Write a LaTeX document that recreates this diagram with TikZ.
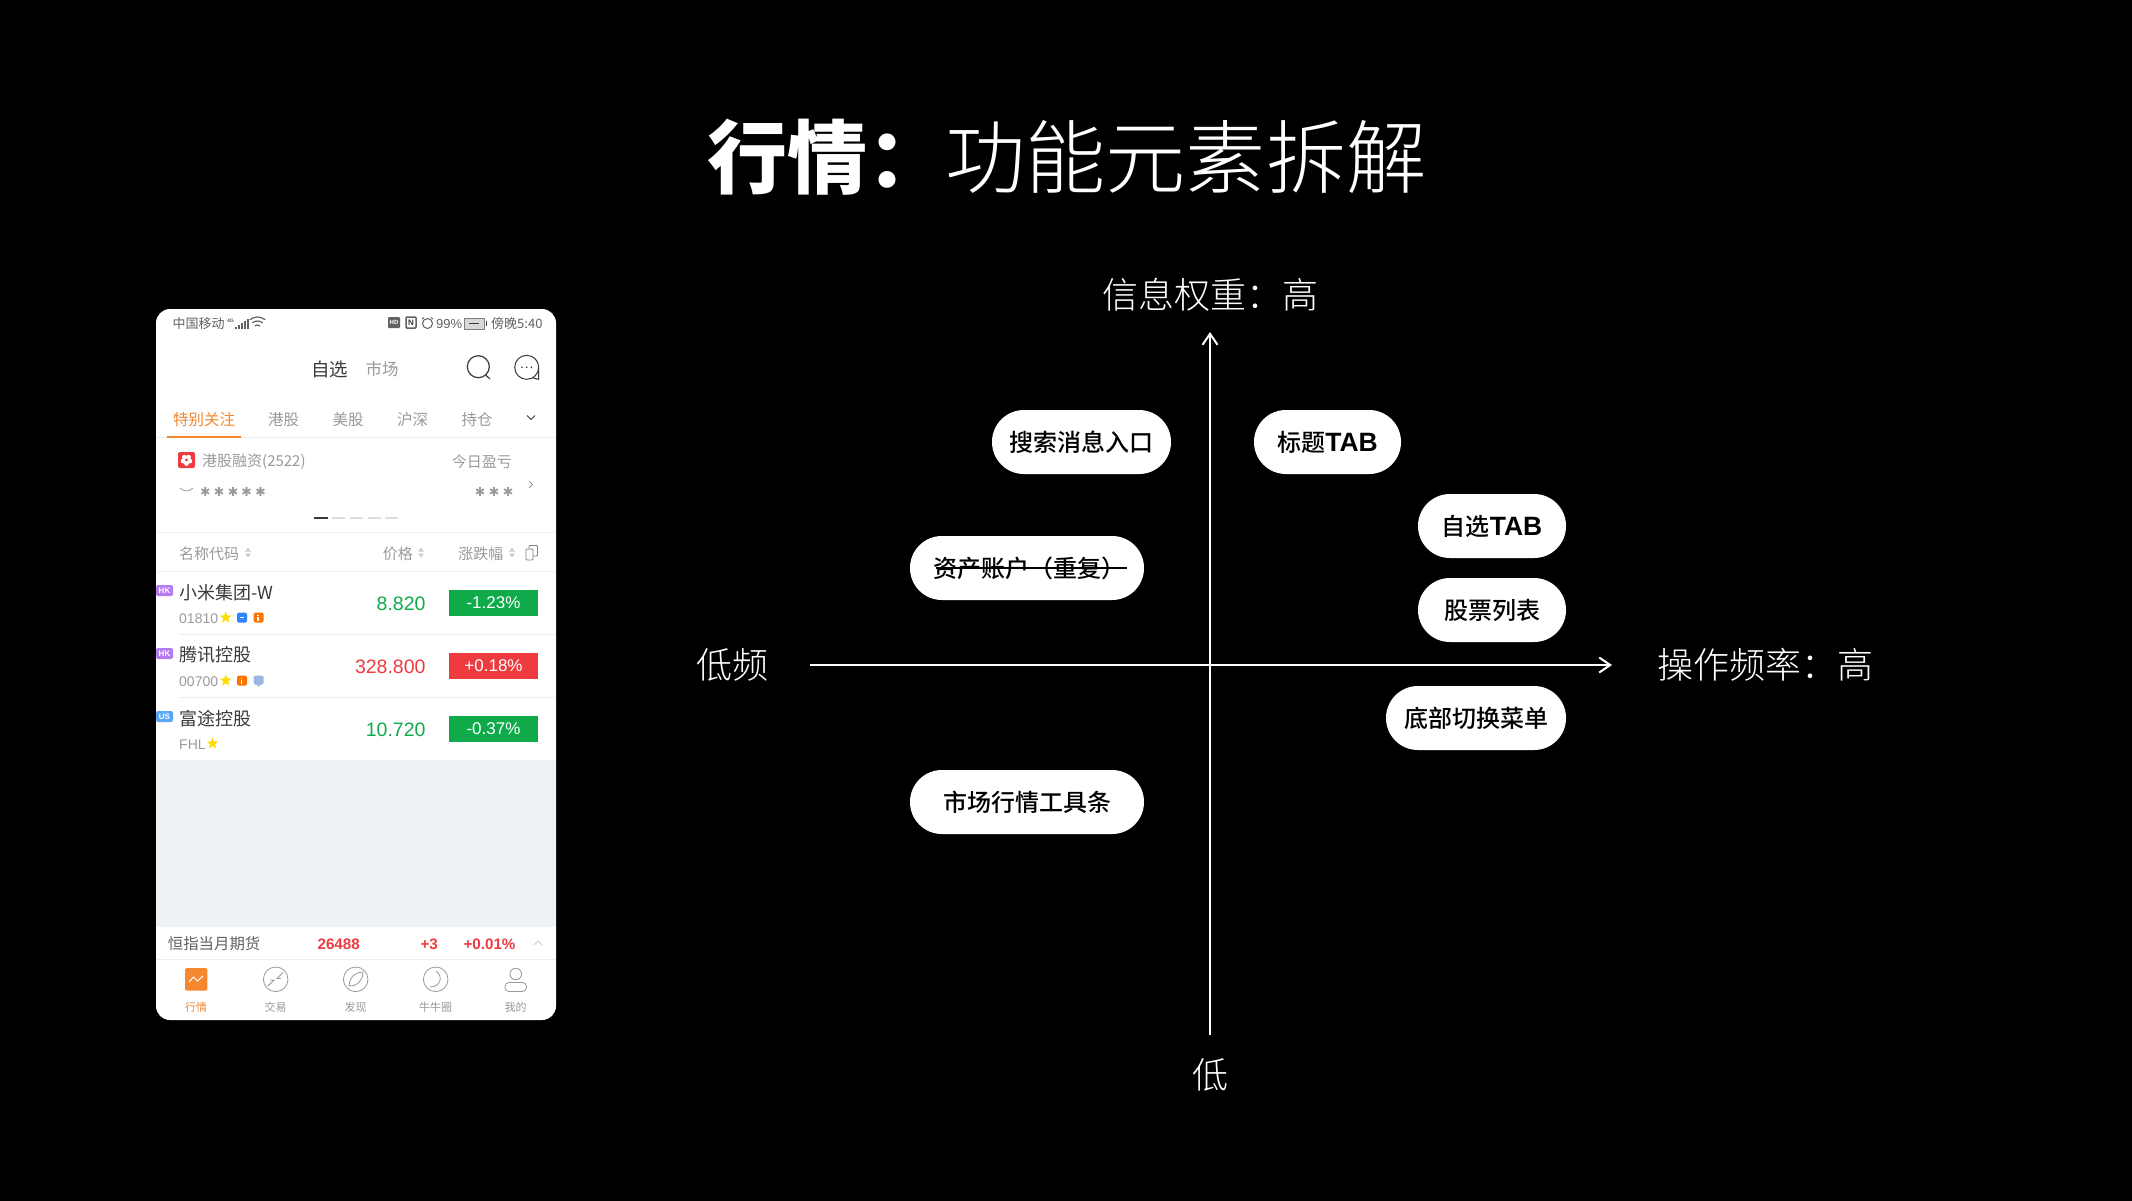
\documentclass[tikz,border=0pt]{standalone}
\usepackage{fontspec}
\usepackage{tikz}
\usetikzlibrary{arrows.meta, positioning, calc, shapes.geometric}
\setmainfont{Noto Sans CJK SC}
\newfontfamily\lightcjk{Noto Sans CJK SC Light}
\newfontfamily\medcjk{Noto Sans CJK SC Medium}
\newfontfamily\numfont{Liberation Sans}
\newfontfamily\symfont{DejaVu Sans}
\definecolor{appOrange}{HTML}{F5872F}
\definecolor{appGreen}{HTML}{0FAB4B}
\definecolor{appRed}{HTML}{EE3B3F}
\definecolor{appBg}{HTML}{EFF2F4}
\definecolor{txtDark}{HTML}{3A3A3A}
\definecolor{txtGray}{HTML}{9A9A9A}
\definecolor{lineGray}{HTML}{EEEEEE}
\definecolor{pagerGray}{HTML}{DDDDDD}
\definecolor{tagPurple}{HTML}{B57BF0}
\definecolor{tagBlue}{HTML}{5AA5F5}

\newcommand{\fs}[1]{\fontsize{#1}{#1}\selectfont}
\newcommand{\tabword}{{\numfont\bfseries\fs{26.5}TAB}}

\begin{document}
\begin{tikzpicture}[
    x=1pt, y=-1pt,
    >={Straight Barb[length=11pt,width=15pt]},
    pill/.style={rectangle, rounded corners=31.9pt, fill=white, text=black, minimum height=64pt, inner sep=0pt, font=\medcjk\fs{24}},
    axislabel/.style={text=white, inner sep=0pt, yshift=-1.5pt, font=\lightcjk\fs{36}},
    axis/.style={white, line width=2pt},
    status/.style={inner sep=0pt, yshift=-1pt, text=txtDark!80, font=\fs{13}},
    tabtxt/.style={inner sep=0pt, yshift=-1pt, text=txtGray, font=\fs{15.5}},
    small/.style={inner sep=0pt, yshift=-1pt, text=txtGray, font=\fs{15}},
    stock/.style={inner sep=0pt, yshift=-0.5pt, text=txtDark, font=\fs{18}},
    code/.style={inner sep=0pt, yshift=-1pt, text=txtGray, font=\numfont\fs{14}},
    price/.style={inner sep=0pt, yshift=-1pt, anchor=east, font=\numfont\fs{19.5}},
    change/.style={rectangle, minimum width=89pt, minimum height=26pt, inner sep=0pt, text=white, font=\numfont\fs{17}},
    tag/.style={rectangle, rounded corners=2pt, minimum width=17pt, minimum height=11pt, inner sep=0pt, text=white, font=\numfont\bfseries\fs{8}},
    navtxt/.style={inner sep=0pt, yshift=-1pt, text=txtGray, font=\fs{11}},
    navicon/.style={draw=gray!80, line width=0.8pt},
    rating/.style={shape=star, star points=5, star point ratio=2.4, fill=yellow!80!orange, inner sep=0pt, minimum size=12.5pt},
    masked/.style={inner sep=0pt, text=txtGray, font=\symfont\fs{12.5}},
    hair/.style={lineGray, line width=0.8pt},
    bar/.style={inner sep=0pt, yshift=-1pt, text=appRed, font=\numfont\bfseries\fs{15.2}}
]

% -------- Background --------
\useasboundingbox (0,0) rectangle (2132,1200);
\fill[black] (-5,-5) rectangle (2137,1205);

% -------- Title --------
\node[anchor=west, inner sep=0pt, text=white, font=\bfseries\fs{80}] (titleA) at (707,157) {行情：};
\node[anchor=west, inner sep=0pt, text=white, font=\lightcjk\fs{80.2}] (titleB) at (945,157) {功能元素拆解};

% -------- Phone body --------
\fill[white, rounded corners=14pt] (156,309) rectangle (556,1020);
\fill[appBg] (156,760) rectangle (556,927);

% status bar
\node[status, anchor=west] (carrier) at (172.5,323) {中国移动};
\foreach \x/\h in {235/2,238/4,241/6,244/8,247/10} {
    \fill[txtDark!80] (\x,329) rectangle ++(1.8,-\h);
}
\node[status, anchor=west, font=\numfont\bfseries\fs{5}] (net) at (227,319.5) {4G};
\foreach \r in {4,8,12} {
    \draw[txtDark!80, line width=1.2pt] (257.5,329)+(-130:\r) arc[start angle=-130, end angle=-50, radius=\r];
}
\fill[txtDark!80, rounded corners=1pt] (388,317) rectangle (400,328);
\node[inner sep=0pt, text=white, font=\numfont\bfseries\fs{6}] (hd) at (394,322.5) {HD};
\draw[txtDark!80, line width=1.5pt, rounded corners=1pt] (406,317) rectangle (416,328);
\node[inner sep=0pt, text=txtDark, font=\numfont\bfseries\fs{8}] (nfc) at (411,322.5) {N};
\draw[txtDark!80, line width=1pt] (427.5,323.5) circle (5);
\draw[txtDark!80, line width=1pt] (422,319) -- (424,317.5) (433,319) -- (431,317.5);
\node[status, anchor=west, font=\numfont\fs{13}] (pct) at (436,323) {99\%};
\draw[gray, line width=0.8pt, fill=lineGray!80!gray] (464,318) rectangle (484,329);
\fill[txtDark] (486,321) rectangle (487,326);
\fill[txtDark] (469,323) rectangle (479,324);
\node[status, anchor=west] (clock) at (491,323) {傍晚5:40};

% header
\node[inner sep=0pt, yshift=-1pt, text=txtDark, font=\fs{18.5}] (self) at (329.5,368) {自选};
\node[inner sep=0pt, yshift=-1pt, text=txtGray, font=\fs{16.5}] (market) at (382,368) {市场};
\draw[txtDark, line width=1.2pt] (478.3,366.7) circle (11);
\draw[txtDark, line width=1.2pt] (485.5,375) -- (490,379);
\draw[txtDark, line width=1pt] (526.7,367.3) circle (12);
\draw[txtDark, line width=1pt] (532.5,377.8) -- (538.5,379.3) -- (538.7,367.3);
\foreach \x in {522,526.7,531.4} {
    \fill[txtDark] (\x,367.3) circle (0.9);
}

% tabs
\node[tabtxt, text=appOrange] (tabA) at (204,419) {特别关注};
\node[tabtxt] (tabB) at (283.7,419) {港股};
\node[tabtxt] (tabC) at (348,419) {美股};
\node[tabtxt] (tabD) at (412.7,419) {沪深};
\node[tabtxt] (tabE) at (477,419) {持仓};
\draw[txtDark, line width=1pt] (527,415.5) -- (531,419.5) -- (535,415.5);
\draw[hair] (156,437.5) -- (556,437.5);
\fill[appOrange] (167,436) rectangle (241,438);

% account card
\fill[appRed, rounded corners=2pt] (178,452) rectangle (195,468);
\foreach \a in {90,162,234,306,18} {
    \fill[white] (186.5,460)+(\a:3.5) circle (2.4);
}
\fill[appRed] (186.5,460) circle (0.8);
\node[small, anchor=west] (acct) at (202,460.7) {港股融资(2522)};
\node[small, anchor=east] (today) at (512,460.7) {今日盈亏};
\draw[txtGray, line width=0.8pt] (180,488) .. controls (184,492) and (189,492) .. (193,488);
\foreach \x in {205.3,219,233,246.7,260.7,480,494,508} {
    \node[masked] at (\x,492) {✱};
}
\draw[txtGray, line width=0.8pt] (529,481) -- (532.5,484.5) -- (529,488);
\fill[txtDark] (314,517) rectangle (327.5,519);
\foreach \x in {332,350,367.5,385} {
    \fill[pagerGray] (\x,517) rectangle ++(13,2);
}
\draw[hair] (156,532) -- (556,532);

% list header
\node[small, anchor=west] (colName) at (179,552.7) {名称代码};
\node[small, anchor=east] (colPrice) at (413,552.7) {价格};
\node[small, anchor=east] (colChange) at (503.5,552.7) {涨跌幅};
\foreach \x in {248,421,512} {
    \fill[lineGray!70!gray] (\x-3,551.5) -- (\x+3,551.5) -- (\x,547.5) -- cycle;
    \fill[lineGray!70!gray] (\x-3,553.5) -- (\x+3,553.5) -- (\x,557.5) -- cycle;
}
\draw[gray, line width=0.8pt, rounded corners=1pt] (526,549) rectangle (533,560);
\draw[gray, line width=0.8pt, rounded corners=1pt] (529,549) -- (529,545.5) -- (537.5,545.5) -- (537.5,556) -- (533,556);
\draw[hair] (156,571.5) -- (556,571.5);

% -------- Stock rows --------
\def\rowA{0}
\def\rowB{63}
\def\rowC{126}

\foreach \dy/\i/\mk/\mkcol/\nm/\cd/\pr/\chg/\col in {
    \rowA/1/HK/tagPurple/小米集团-W/01810/8.820/-1.23\%/appGreen,
    \rowB/2/HK/tagPurple/腾讯控股/00700/328.800/+0.18\%/appRed,
    \rowC/3/US/tagBlue/富途控股/FHL/10.720/-0.37\%/appGreen} {
    \node[tag, fill=\mkcol] (tag\i) at (164.5,590.5+\dy) {\mk};
    \node[stock, anchor=west] (name\i) at (179,591.7+\dy) {\nm};
    \node[code, anchor=west] (code\i) at (179,617.7+\dy) {\cd};
    \node[price, text=\col] (price\i) at (425.7,602.7+\dy) {\pr};
    \node[change, fill=\col, text depth=1pt] (chg\i) at (493.5,603+\dy) {\chg};
}
\draw[hair] (179,634.5) -- (556,634.5);
\draw[hair] (179,697.5) -- (556,697.5);

% row badges
\node[rating] (star1) at (225.7,617.5) {};
\node[rating] (star2) at (225.7,680.5) {};
\node[rating] (star3) at (212.5,743.5) {};
\fill[blue!60!cyan!80!white, rounded corners=1.5pt] (237,612.5) rectangle (247,622.5);
\fill[white] (240,617) rectangle (244,618);
\foreach \x/\y in {253.7/612.5,237/675.5} {
    \fill[orange!90!red, rounded corners=1.5pt] (\x,\y) rectangle ++(10,10);
    \fill[white] (\x+3.5,\y+2) rectangle ++(1.5,1.5);
    \fill[white] (\x+3.5,\y+4.5) rectangle ++(1.5,4);
}
\fill[cyan!50!blue!40!white, rounded corners=1.5pt] (253.7,675.5) rectangle (263.7,684.5);
\fill[cyan!50!blue!40!white] (256,684) -- (261,684) -- (258.5,686.5) -- cycle;

% -------- Index bar --------
\fill[white] (156,927) rectangle (556,959);
\node[small, anchor=west, text=txtDark!80, font=\fs{15.4}] (idxName) at (167.7,943) {恒指当月期货};
\node[bar] (idxVal) at (338.7,943) {26488};
\node[bar] (idxPts) at (429.2,943) {+3};
\node[bar] (idxPct) at (489.5,943) {+0.01\%};
\draw[lineGray!70!gray, line width=0.8pt] (534,945) -- (538,941) -- (542,945);
\draw[hair] (156,959.5) -- (556,959.5);

% -------- Bottom nav --------
\fill[appOrange, rounded corners=1.5pt] (185,968) rectangle (207.3,990.7);
\draw[white, line width=1pt] (189,982) -- (193.5,977) -- (197.5,981) -- (203,976);
\draw[navicon] (275.7,979.3) circle (12.3);
\draw[navicon] (268,986) -- (274,980) -- (270,980);
\draw[navicon] (283,972.5) -- (277,978.5) -- (281,978.5);
\draw[navicon] (355.7,979.3) circle (12.3);
\draw[navicon] (349,986) .. controls (350,976) and (356,972) .. (363,972) .. controls (363,980) and (358,986) .. (349,986) -- cycle;
\draw[navicon] (435.7,979.3) circle (12.3);
\draw[navicon] (436,971) .. controls (444,977) and (440,987) .. (430,987);
\draw[navicon] (515.7,974) circle (5.8);
\draw[navicon, rounded corners=4pt] (505,991.5) rectangle (526.5,982.5);
\node[navtxt, text=appOrange] (navA) at (196,1006.7) {行情};
\node[navtxt] (navB) at (275.7,1006.7) {交易};
\node[navtxt] (navC) at (355.7,1006.7) {发现};
\node[navtxt] (navD) at (435.7,1006.7) {牛牛圈};
\node[navtxt] (navE) at (515.7,1006.7) {我的};

% -------- Axes --------
\coordinate (yTop) at (1210,332);
\coordinate (yBot) at (1210,1035);
\coordinate (xLeft) at (810,665);
\coordinate (xRight) at (1612,665);
\draw[axis,->] (yBot) -- (yTop);
\draw[axis,->] (xLeft) -- (xRight);

\node[axislabel] (yHigh) at (1210,293) {信息权重：高};
\node[axislabel] (yLow) at (1210,1073) {低};
\node[axislabel] (xLow) at (732,663) {低频};
\node[axislabel] (xHigh) at (1765,663) {操作频率：高};

% -------- Pills --------
\node[pill, minimum width=179pt] (search) at (1081.5,442) {搜索消息入口};
\node[pill, minimum width=147pt] (titleTab) at (1327.5,442) {标题\tabword};
\node[pill, minimum width=148pt] (selfTab) at (1492,526) {自选\tabword};
\node[pill, minimum width=148pt] (list) at (1492,610) {股票列表};
\node[pill, minimum width=234pt] (account) at (1027,568) {\hspace*{5pt}资产账户（重复）};
\node[pill, minimum width=180pt] (menu) at (1476,718) {底部切换菜单};
\node[pill, minimum width=234pt] (toolbar) at (1027,802) {市场行情工具条};
\draw[black, line width=1.8pt] ([xshift=26pt]account.west) -- ([xshift=217pt]account.west);

\end{tikzpicture}
\end{document}
